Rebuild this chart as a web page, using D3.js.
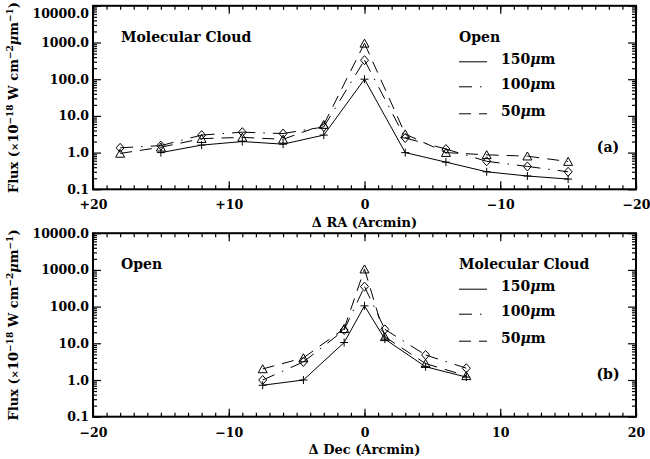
<!DOCTYPE html>
<html>
<head>
<meta charset="utf-8">
<script src="https://cdn.jsdelivr.net/npm/d3@7"></script>
<style>
  body { margin: 0; background: #fff; }
  svg { display: block; }
  text { font-family: "DejaVu Serif", serif; font-weight: bold; fill: #000; }
</style>
</head>
<body>
<svg id="chart" width="650" height="459"></svg>
<script>
// panel (a): scan along RA
var raOffsets = [18, 15, 12, 9, 6, 3, 0, -3, -6, -9, -12, -15];
var raFlux150 = [null, 1.0, 1.6, 2.0, 1.7, 3.0, 100, 1.0, 0.55, 0.30, 0.23, 0.19];
var raFlux100 = [1.35, 1.55, 3.0, 3.6, 3.3, 5.0, 330, 2.5, 1.25, 0.58, 0.42, 0.30];
var raFlux50  = [0.95, 1.4, 2.4, 2.6, 2.3, 5.8, 950, 3.2, 1.0, 0.87, 0.80, 0.57];

// panel (b): scan along Dec
var decOffsets = [-7.5, -4.5, -1.5, 0, 1.5, 4.5, 7.5];
var decFlux150 = [0.72, 1.0, 10.5, 105, 13, 2.3, 1.2];
var decFlux100 = [1.0, 3.1, 23, 350, 24, 4.8, 2.1];
var decFlux50  = [2.0, 4.0, 25, 1050, 15, 2.8, 1.3];

var yTicks = [0.1, 1, 10, 100, 1000, 10000];
var raTicks = [20, 10, 0, -10, -20];
var decTicks = [-20, -10, 0, 10, 20];
var bands = ["150", "100", "50"];

var dashes = {"150": null, "100": "13,8,1.5,8", "50": "12,8"};
var markers = {
  "150": "M-4,0H4M0,-4V4",
  "100": "M0,-4.5L4,0L0,4.5L-4,0Z",
  "50": "M-4.5,3.8L0,-4.2L4.5,3.8Z"
};

var svg = d3.select("#chart");
var left = 93, right = 636;

function minusFmt(d) { return d < 0 ? "\u2212" + Math.abs(d) : String(d); }

function drawPanel(p) {
  var x = d3.scaleLinear().domain(p.xDomain).range([left, right]);
  var y = d3.scaleLog().domain([0.1, 10000]).range([p.bottom, p.top]);
  var g = svg.append("g");

  var xMinor = d3.range(-20, 21, 1);
  var yMinor = [];
  [0.1, 1, 10, 100, 1000].forEach(function(d) {
    for (var k = 2; k < 10; k++) yMinor.push(d * k);
  });

  function clean(sel) {
    sel.select(".domain").remove();
    sel.selectAll(".tick line").attr("stroke-width", 1.2);
  }

  // ticks point inward on all four sides
  g.append("g").attr("transform", "translate(0," + p.bottom + ")")
    .call(d3.axisBottom(x).tickValues(xMinor).tickSize(-4).tickFormat("")).call(clean);
  g.append("g").attr("transform", "translate(0," + p.bottom + ")")
    .call(d3.axisBottom(x).tickValues(p.xTicks).tickSize(-8).tickPadding(11).tickFormat(p.xFormat))
    .call(clean)
    .selectAll("text").style("font-size", "12.5px").style("font-family", "DejaVu Serif").style("font-weight", "bold");
  g.append("g").attr("transform", "translate(0," + p.top + ")")
    .call(d3.axisTop(x).tickValues(xMinor).tickSize(-4).tickFormat("")).call(clean);
  g.append("g").attr("transform", "translate(0," + p.top + ")")
    .call(d3.axisTop(x).tickValues(p.xTicks).tickSize(-8).tickFormat("")).call(clean);

  g.append("g").attr("transform", "translate(" + left + ",0)")
    .call(d3.axisLeft(y).tickValues(yMinor).tickSize(-4).tickFormat("")).call(clean);
  var yl = g.append("g").attr("transform", "translate(" + left + ",0)")
    .call(d3.axisLeft(y).tickValues(yTicks).tickSize(-8).tickPadding(4).tickFormat(d3.format(".1f")))
    .call(clean);
  yl.selectAll("text").style("font-size", "12.5px").style("font-family", "DejaVu Serif").style("font-weight", "bold");
  // keep the top label inside the page (IDL pushes it down too)
  if (p.top < 10) {
    yl.selectAll(".tick").filter(function(d) { return d === 10000; })
      .select("text").attr("dy", "0.95em");
  }
  g.append("g").attr("transform", "translate(" + right + ",0)")
    .call(d3.axisRight(y).tickValues(yMinor).tickSize(-4).tickFormat("")).call(clean);
  g.append("g").attr("transform", "translate(" + right + ",0)")
    .call(d3.axisRight(y).tickValues(yTicks).tickSize(-8).tickFormat("")).call(clean);

  g.append("rect")
    .attr("x", left).attr("y", p.top)
    .attr("width", right - left).attr("height", p.bottom - p.top)
    .attr("fill", "none").attr("stroke", "#000").attr("stroke-width", 2);

  // y axis title
  var cy = (p.top + p.bottom) / 2;
  var yt = g.append("text")
    .attr("transform", "translate(13," + cy + ") rotate(-90)")
    .attr("text-anchor", "middle").attr("dy", "0.35em")
    .style("font-size", "13px");
  yt.append("tspan").text("Flux (");
  yt.append("tspan").style("font-size", "10px").text("\u00d7");
  yt.append("tspan").text("10");
  yt.append("tspan").attr("dy", -5).style("font-size", "9px").text("\u221218");
  yt.append("tspan").attr("dy", 5).text(" W cm");
  yt.append("tspan").attr("dy", -5).style("font-size", "9px").text("\u22122");
  yt.append("tspan").attr("dy", 5).style("font-style", "italic").text("\u03bc");
  yt.append("tspan").text("m");
  yt.append("tspan").attr("dy", -5).style("font-size", "9px").text("\u22121");
  yt.append("tspan").attr("dy", 5).text(")");

  // x axis title
  g.append("text")
    .attr("x", (left + right) / 2).attr("y", p.bottom + 33)
    .attr("text-anchor", "middle").attr("dy", "0.35em")
    .style("font-size", "13px")
    .text(p.xTitle);

  // data: IDL restarts the dash pattern at every vertex, so draw segment by segment
  var line = d3.line().x(function(d) { return x(d[0]); }).y(function(d) { return y(d[1]); });
  bands.forEach(function(b) {
    var pts = p.x.map(function(v, i) { return [v, p.flux[b][i]]; })
      .filter(function(d) { return d[1] != null; });
    var sg = g.append("g").attr("class", "series-" + b);
    d3.pairs(pts).forEach(function(seg) {
      sg.append("path")
        .attr("d", line(seg))
        .attr("fill", "none").attr("stroke", "#000").attr("stroke-width", 1)
        .attr("stroke-dasharray", dashes[b]);
    });
    sg.selectAll(".mark").data(pts).enter().append("path")
      .attr("class", "mark")
      .attr("transform", function(d) { return "translate(" + x(d[0]) + "," + y(d[1]) + ")"; })
      .attr("d", markers[b])
      .attr("fill", "none").attr("stroke", "#000").attr("stroke-width", 1);
  });

  // labels inside the plot
  g.append("text").attr("x", 121).attr("y", p.top + 31).attr("dy", "0.35em")
    .style("font-size", "14px").text(p.leftTitle);
  g.append("text").attr("x", 459).attr("y", p.top + 31).attr("dy", "0.35em")
    .style("font-size", "14px").text(p.legendTitle);
  var legY = [p.top + 53, p.top + 78, p.top + 105];
  bands.forEach(function(b, i) {
    g.append("line")
      .attr("x1", 459).attr("x2", 487)
      .attr("y1", legY[i] + 3).attr("y2", legY[i] + 3)
      .attr("stroke", "#000").attr("stroke-width", 1)
      .attr("stroke-dasharray", dashes[b]);
    var t = g.append("text").attr("x", 501).attr("y", legY[i]).attr("dy", "0.35em")
      .style("font-size", "14px");
    t.append("tspan").text(b);
    t.append("tspan").style("font-style", "italic").text("\u03bc");
    t.append("tspan").text("m");
  });
  g.append("text").attr("x", 608).attr("y", p.top + 141).attr("dy", "0.35em")
    .attr("text-anchor", "middle")
    .style("font-size", "14px").text(p.tag);
}

drawPanel({
  top: 5.8, bottom: 189.3,
  xDomain: [20, -20], xTicks: raTicks,
  xFormat: function(d) { return d > 0 ? "+" + d : minusFmt(d); },
  xTitle: "\u0394 RA (Arcmin)",
  x: raOffsets,
  flux: {"150": raFlux150, "100": raFlux100, "50": raFlux50},
  leftTitle: "Molecular Cloud", legendTitle: "Open", tag: "(a)"
});

drawPanel({
  top: 233.2, bottom: 416.7,
  xDomain: [-20, 20], xTicks: decTicks,
  xFormat: minusFmt,
  xTitle: "\u0394 Dec (Arcmin)",
  x: decOffsets,
  flux: {"150": decFlux150, "100": decFlux100, "50": decFlux50},
  leftTitle: "Open", legendTitle: "Molecular Cloud", tag: "(b)"
});
</script>
</body>
</html>
